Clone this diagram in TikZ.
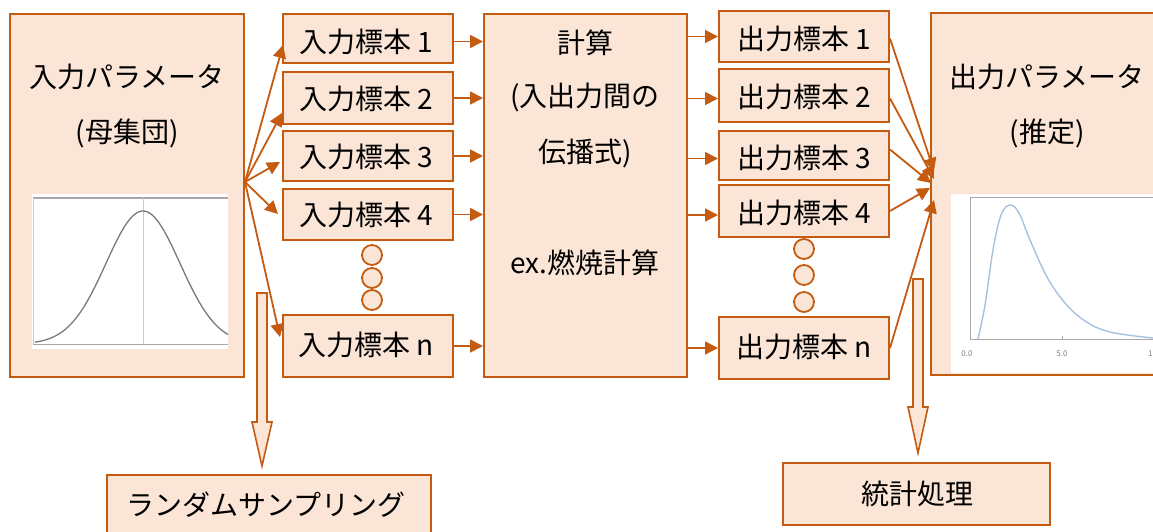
\documentclass[tikz,border=0pt]{standalone}
\usepackage{fontspec}
\setmainfont{Noto Sans CJK JP}
\usetikzlibrary{arrows.meta}
\definecolor{pfill}{HTML}{FBE5D6}
\definecolor{pline}{HTML}{C55A11}
\definecolor{axgray}{HTML}{A8A8A8}
\definecolor{curvegray}{HTML}{7A7A7A}
\definecolor{curveblue}{HTML}{A9C1E0}
\tikzset{
  box/.style={draw=pline, fill=pfill, line width=2pt, inner sep=0pt},
  lbl/.style={font=\fontsize{28}{32}\selectfont, text=black, inner sep=0pt},
  conn/.style={draw=pline, line width=1.8pt, -{Triangle[length=13pt,width=13pt]}},
  dot/.style={circle, draw=pline, fill=pfill, line width=1.8pt, minimum size=20pt, inner sep=0pt},
  blockarrow/.style={draw=pline, fill=pfill, line width=1.6pt, line join=miter},
}
\begin{document}
\begin{tikzpicture}[x=1pt,y=-1pt]
\useasboundingbox (0,0) rectangle (1153,531);
% left parameter box
\node[box, minimum width=234pt, minimum height=363pt] (lp) at (127,195.5) {};
\node[lbl] (lpt1) at (127,77) {入力パラメータ};
\node[lbl] (lpt2) at (127,133) {(母集団)};
% left image
\fill[white] (32,194) rectangle (228,349);
\draw[axgray, line width=1.2pt] (33,198) -- (228,198);
\draw[axgray!60, line width=0.8pt] (33,198) -- (33,344);
\draw[axgray!60, line width=0.8pt] (143,198) -- (143,344);
\draw[axgray, line width=1pt] (33,344) -- (228,344);
\draw[curvegray, line width=1.3pt] plot[domain=35:228, samples=90] (\x, {344-133*exp(-((\x-143)^2)/(2*37^2))});
% input samples
\node[box, minimum width=170pt, minimum height=49pt] (in1) at (368,38.5) {};
\node[box, minimum width=170pt, minimum height=52pt] (in2) at (368,98) {};
\node[box, minimum width=170pt, minimum height=50pt] (in3) at (368,156) {};
\node[box, minimum width=170pt, minimum height=51pt] (in4) at (368,214.5) {};
\node[box, minimum width=170pt, minimum height=62pt] (inn) at (368,346) {};
\node[lbl] at (366,42) {入力標本 1};
\node[lbl] at (366,99) {入力標本 2};
\node[lbl] at (366,157) {入力標本 3};
\node[lbl] at (366,215) {入力標本 4};
\node[lbl] at (366,345) {入力標本 n};
\node[dot] (id1) at (372,255) {};
\node[dot] (id2) at (372,278) {};
\node[dot] (id3) at (372,300) {};
% calc box
\node[box, minimum width=203pt, minimum height=363pt] (calc) at (585.5,195.5) {};
\node[lbl] at (585,43) {計算};
\node[lbl] at (585,98) {(入出力間の};
\node[lbl] at (585,153) {伝播式)};
\node[lbl] at (585,263) {ex.燃焼計算};
% output samples
\node[box, minimum width=170pt, minimum height=51pt] (out1) at (804,36.5) {};
\node[box, minimum width=170pt, minimum height=53pt] (out2) at (804,95.5) {};
\node[box, minimum width=170pt, minimum height=49pt] (out3) at (804,155.5) {};
\node[box, minimum width=170pt, minimum height=52pt] (out4) at (804,211) {};
\node[box, minimum width=170pt, minimum height=62pt] (outn) at (804,348) {};
\node[lbl] at (804,39) {出力標本 1};
\node[lbl] at (804,97) {出力標本 2};
\node[lbl] at (804,158) {出力標本 3};
\node[lbl] at (804,213) {出力標本 4};
\node[lbl] at (804,347) {出力標本 n};
\node[dot] (od1) at (804,249) {};
\node[dot] (od2) at (804,275) {};
\node[dot] (od3) at (804,302) {};
% output parameter box
\node[box, minimum width=232pt, minimum height=362pt] (rp) at (1047,194) {};
\node[lbl] at (1047,77) {出力パラメータ};
\node[lbl] at (1047,133) {(推定)};
% right image
\fill[white] (951,194) rectangle (1153,373);
\draw[axgray, line width=1pt] (970,197) -- (1153,197);
\draw[axgray, line width=1pt] (970,197) -- (970,339) -- (1153,339);
\draw[axgray, line width=0.8pt] (1062,339) -- (1062,336);
\node[font=\fontsize{8}{9}\selectfont, text=gray] at (967,354) {0.0};
\node[font=\fontsize{8}{9}\selectfont, text=gray] at (1062,354) {5.0};
\node[font=\fontsize{8}{9}\selectfont, text=gray, anchor=west, inner sep=0pt] at (1148,354) {1};
\draw[curveblue, line width=1.4pt] plot[smooth, tension=0.6] coordinates {(978,339) (985,305) (993,250) (1001,215) (1010,205) (1019,213) (1030,240) (1047,277) (1065,303) (1085,321) (1110,332) (1153,338)};
% connectors: left box to inputs
\coordinate (src) at (245,182);
\coordinate (t1) at (283,45);
\coordinate (t2) at (282,113);
\coordinate (t3) at (280,162);
\coordinate (t4) at (278,214);
\coordinate (tn) at (280,337);
\foreach \t in {t1,t2,t3,t4,tn} \draw[conn] (src) -- (\t);
% inputs to calc
\draw[conn] ([yshift=-3pt]in1.east) -- ([yshift=-3pt]in1.east -| calc.west);
\draw[conn] (in2.east) -- (in2.east -| calc.west);
\draw[conn] (in3.east) -- (in3.east -| calc.west);
\draw[conn] (in4.east) -- (in4.east -| calc.west);
\draw[conn] (inn.east) -- (inn.east -| calc.west);
% calc to outputs
\draw[conn] (calc.east |- out1.west) -- (out1.west);
\draw[conn] ([yshift=-3pt]calc.east |- out2.west) -- ([yshift=-3pt]out2.west);
\draw[conn] ([yshift=-3pt]calc.east |- out3.west) -- ([yshift=-3pt]out3.west);
\draw[conn] ([yshift=-4pt]calc.east |- out4.west) -- ([yshift=-4pt]out4.west);
\draw[conn] (calc.east |- outn.west) -- (outn.west);
% outputs to right box
\coordinate (r1) at (934,171);
\coordinate (r2) at (934,179);
\coordinate (r3) at (931,183);
\coordinate (r4) at (930,188);
\coordinate (rn) at (934,200);
\draw[conn] ([yshift=-2pt]out1.east) -- (r1);
\draw[conn] ([yshift=-3pt]out2.east) -- (r2);
\draw[conn] ([yshift=6pt]out3.east) -- (r3);
\draw[conn] (out4.east) -- (r4);
\draw[conn] (outn.east) -- (rn);
% block arrows
\draw[blockarrow] (257,293) -- (267,293) -- (267,422) -- (272,422) -- (262,466) -- (252,422) -- (257,422) -- cycle;
\draw[blockarrow] (913,279) -- (923,279) -- (923,407) -- (928,407) -- (918,453) -- (908,407) -- (913,407) -- cycle;
% bottom boxes
\node[box, minimum width=324pt, minimum height=70pt] (samp) at (269,510) {};
\node[lbl] at (266,505) {ランダムサンプリング};
\node[box, minimum width=267pt, minimum height=62pt] (stat) at (916.5,494) {};
\node[lbl] at (917,494) {統計処理};
\end{tikzpicture}
\end{document}
